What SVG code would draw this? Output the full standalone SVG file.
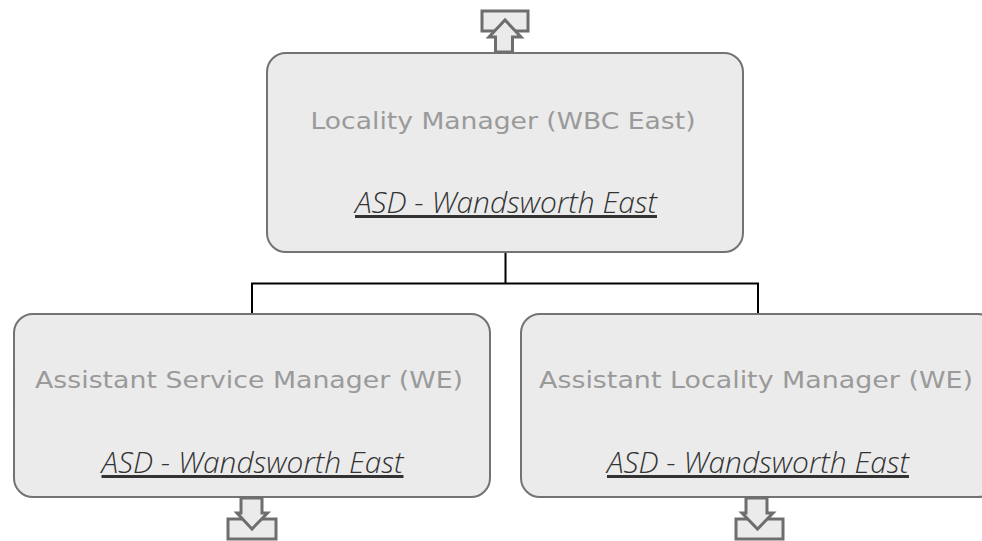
<svg xmlns="http://www.w3.org/2000/svg" width="982" height="541" viewBox="0 0 982 541">
<style>
.box{fill:#ebebeb;stroke:#737373;stroke-width:2}
.title{font-family:"DejaVu Sans","Liberation Sans",Arial,sans-serif;font-size:22.5px;fill:#9a9a9a;text-anchor:middle}
.sub{font-family:"Open Sans","Liberation Sans",sans-serif;font-weight:300;font-style:italic;font-size:30px;fill:#333;text-anchor:middle;text-decoration:underline}
.conn{fill:none;stroke:#000;stroke-width:2}
.icon{fill:#ebebeb;stroke:#6e6e6e;stroke-width:3;stroke-linejoin:miter}
</style>
<rect width="982" height="541" fill="#fff"/>
<g id="connectors">
<path class="conn" d="M505.5 253 V283.5 M252 283.5 H758 M252 282.5 V313 M758 282.5 V313"/>
</g>
<g id="node-top">
<rect class="box" x="267" y="53" width="476" height="199" rx="19"/>
<text class="title" x="503" y="129" textLength="385" lengthAdjust="spacingAndGlyphs">Locality Manager (WBC East)</text>
<text class="sub" x="506" y="213" textLength="302" lengthAdjust="spacingAndGlyphs">ASD - Wandsworth East</text>
</g>
<g id="icon-top">
<rect class="icon" x="482" y="11" width="46" height="20"/>
<polygon class="icon" points="495.5,52 495.5,37 489,37 505,20 521,37 512.5,37 512.5,52"/>
</g>
<g id="node-left">
<rect class="box" x="14" y="314" width="476" height="183" rx="19"/>
<text class="title" x="249" y="388" textLength="428" lengthAdjust="spacingAndGlyphs">Assistant Service Manager (WE)</text>
<text class="sub" x="252.5" y="473" textLength="302" lengthAdjust="spacingAndGlyphs">ASD - Wandsworth East</text>
</g>
<g id="icon-left">
<rect class="icon" x="228" y="519" width="48" height="20"/>
<polygon class="icon" points="241,498 241,513 237,513 252,529 267.5,513 262,513 262,498"/>
</g>
<g id="node-right">
<rect class="box" x="521" y="314" width="476" height="183" rx="19"/>
<text class="title" x="756" y="388" textLength="434" lengthAdjust="spacingAndGlyphs">Assistant Locality Manager (WE)</text>
<text class="sub" x="758" y="473" textLength="302" lengthAdjust="spacingAndGlyphs">ASD - Wandsworth East</text>
</g>
<g id="icon-right">
<rect class="icon" x="736" y="519" width="47" height="20"/>
<polygon class="icon" points="746,498 746,513 742,513 757.5,529 773,513 767,513 767,498"/>
</g>
</svg>
